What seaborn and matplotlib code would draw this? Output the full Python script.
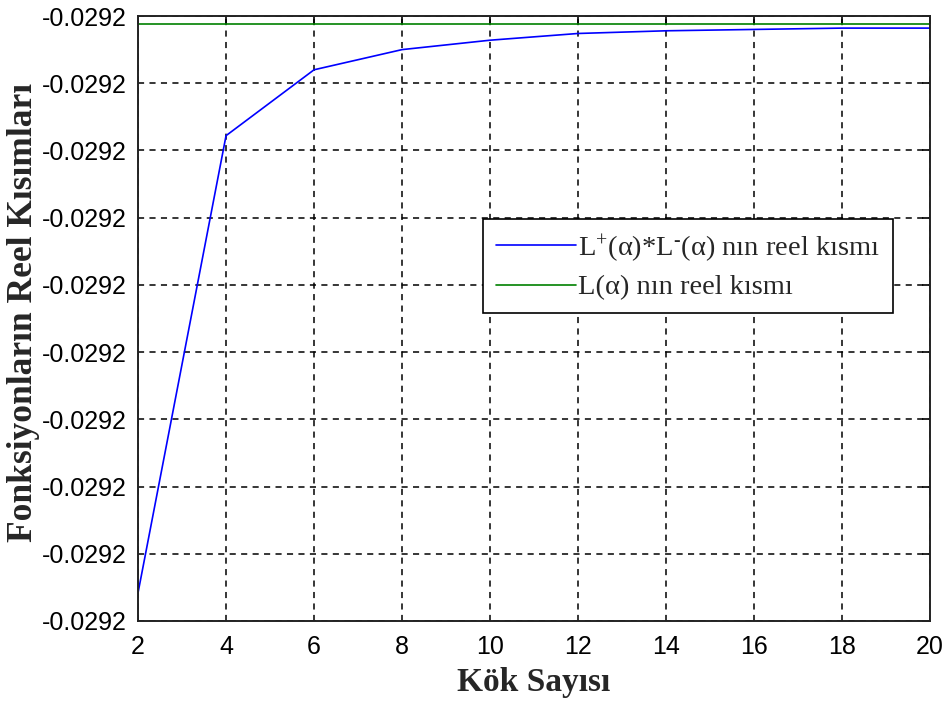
import numpy as np
import pandas as pd
import matplotlib
matplotlib.use("Agg")
import matplotlib.pyplot as plt
import seaborn as sns
from matplotlib.ticker import FormatStrFormatter

# Number of roots used in the product approximation
kok_sayisi = [2, 4, 6, 8, 10, 12, 14, 16, 18, 20]
# Real part of L+(a)*L-(a) for each root count
carpim_reel = [-0.0292379, -0.0292039, -0.0291990, -0.0291975, -0.0291968,
               -0.0291963, -0.0291961, -0.0291960, -0.0291959, -0.0291959]
# Real part of L(a) (exact value, constant)
l_reel = -0.0291956

y_ticks = [-0.029240, -0.029235, -0.029230, -0.029225, -0.029220,
           -0.029215, -0.029210, -0.029205, -0.029200, -0.029195]
x_ticks = [2, 4, 6, 8, 10, 12, 14, 16, 18, 20]

lbl_carpim = "$\\mathrm{L}^{+}$(α)*$\\mathrm{L}^{\\mathrm{\u2010}}$(α) nın reel kısmı"
lbl_l = "L(α) nın reel kısmı"

sns.set_style("white")
plt.rcParams["mathtext.fontset"] = "custom"
plt.rcParams["mathtext.rm"] = "Liberation Serif"
plt.rcParams["mathtext.it"] = "Liberation Serif:italic"
plt.rcParams["mathtext.bf"] = "Liberation Serif:bold"

df = pd.DataFrame({
    "kok": kok_sayisi * 2,
    "deger": carpim_reel + [l_reel] * len(kok_sayisi),
    "seri": [lbl_carpim] * len(kok_sayisi) + [lbl_l] * len(kok_sayisi),
})

fig = plt.figure(figsize=(9.52, 7.08), dpi=100)
ax = fig.add_axes([0.145, 0.1229, 0.832, 0.8545])

sns.lineplot(data=df, x="kok", y="deger", hue="seri",
             palette=["#0000ff", "#008000"], linewidth=1.2, ax=ax,
             legend=True)

ax.set_xlim(2, 20)
ax.set_ylim(-0.029240, -0.029195)
ax.set_xticks(x_ticks)
ax.set_yticks(y_ticks)
ax.yaxis.set_major_formatter(FormatStrFormatter("%.4f"))

ax.grid(True, color="black", linestyle=(0, (4, 3.5)), linewidth=1.1)
for s in ax.spines.values():
    s.set_visible(True)
    s.set_color("#222222")
    s.set_linewidth(1.4)

ax.tick_params(direction="in", length=6, width=1.2, top=True, right=True,
               labelsize=18, colors="black")
ax.tick_params(axis="y", pad=8)
ax.tick_params(axis="x", pad=10)
for t in ax.get_xticklabels() + ax.get_yticklabels():
    t.set_fontfamily("Liberation Sans")

ax.set_xlabel("Kök Sayısı", fontfamily="Liberation Serif", fontweight="bold",
              fontsize=24, labelpad=6)
ax.set_ylabel("Fonksiyonların Reel Kısımları", fontfamily="Liberation Serif",
              fontweight="bold", fontsize=25.5)
ax.yaxis.set_label_coords(-0.124, 0.51)

leg = ax.legend(loc="upper left", bbox_to_anchor=(0.4356, 0.6645),
                prop={"family": "Liberation Serif", "size": 20.5},
                frameon=True, fancybox=False, framealpha=1,
                edgecolor="black", handlelength=2.8, handletextpad=0.1,
                borderpad=0.45, labelspacing=0.35, borderaxespad=0)
leg.get_frame().set_linewidth(1.2)
for h in leg.get_lines():
    h.set_linewidth(1.2)

fig.savefig("out.png", dpi=100, facecolor="white")
